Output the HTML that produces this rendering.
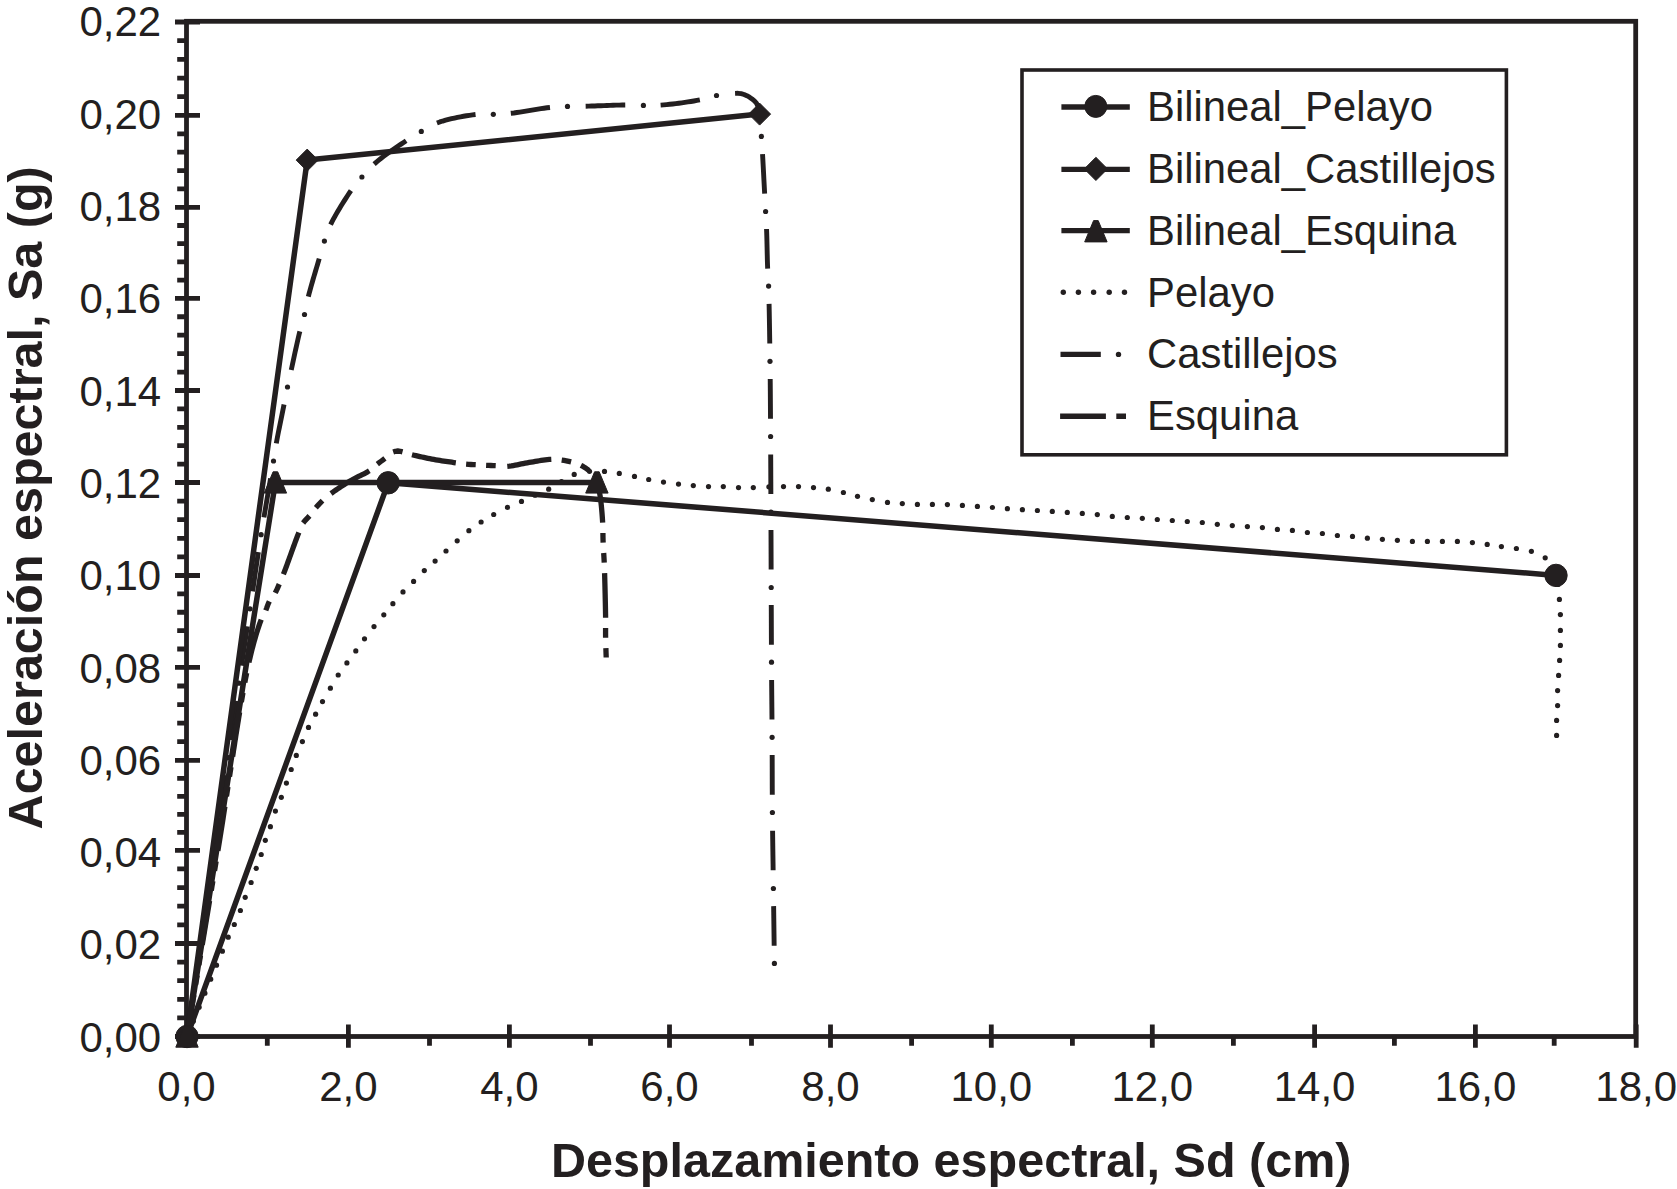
<!DOCTYPE html>
<html lang="es">
<head>
<meta charset="utf-8">
<title>Espectros de capacidad</title>
<style>
html,body{margin:0;padding:0;background:#fff;}
body{width:1677px;height:1189px;overflow:hidden;}
svg{display:block;}
</style>
</head>
<body>
<svg width="1677" height="1189" viewBox="0 0 1677 1189">
<rect width="1677" height="1189" fill="#fff"/>
<g fill="none" stroke="#231f20" stroke-width="4.8" stroke-linecap="butt">
<rect x="186.5" y="21.3" width="1449.2" height="1015.2"/>
<path d="M175 1036.5 H200 M177.2 1017.9 H186.5 M177.2 999.3 H186.5 M177.2 980.7 H186.5 M177.2 962.1 H186.5 M175 943.5 H200 M177.2 924.86 H186.5 M177.2 906.22 H186.5 M177.2 887.58 H186.5 M177.2 868.94 H186.5 M175 850.3 H200 M177.2 832.3 H186.5 M177.2 814.3 H186.5 M177.2 796.3 H186.5 M177.2 778.3 H186.5 M175 760.3 H200 M177.2 741.72 H186.5 M177.2 723.14 H186.5 M177.2 704.56 H186.5 M177.2 685.98 H186.5 M175 667.4 H200 M177.2 649.02 H186.5 M177.2 630.64 H186.5 M177.2 612.26 H186.5 M177.2 593.88 H186.5 M175 575.5 H200 M177.2 556.9 H186.5 M177.2 538.3 H186.5 M177.2 519.7 H186.5 M177.2 501.1 H186.5 M175 482.5 H200 M177.2 464.1 H186.5 M177.2 445.7 H186.5 M177.2 427.3 H186.5 M177.2 408.9 H186.5 M175 390.5 H200 M177.2 372.06 H186.5 M177.2 353.62 H186.5 M177.2 335.18 H186.5 M177.2 316.74 H186.5 M175 298.3 H200 M177.2 280.1 H186.5 M177.2 261.9 H186.5 M177.2 243.7 H186.5 M177.2 225.5 H186.5 M175 207.3 H200 M177.2 188.92 H186.5 M177.2 170.54 H186.5 M177.2 152.16 H186.5 M177.2 133.78 H186.5 M175 115.4 H200 M177.2 96.72 H186.5 M177.2 78.04 H186.5 M177.2 59.36 H186.5 M177.2 40.68 H186.5 M175 22 H200"/>
<path d="M186.5 1024.5 V1047.8 M267.3 1036.5 V1045.8 M348.4 1024.5 V1047.8 M429.5 1036.5 V1045.8 M509.4 1024.5 V1047.8 M590.5 1036.5 V1045.8 M669.5 1024.5 V1047.8 M751.5 1036.5 V1045.8 M830.5 1024.5 V1047.8 M911.6 1036.5 V1045.8 M991.3 1024.5 V1047.8 M1072.4 1036.5 V1045.8 M1152.3 1024.5 V1047.8 M1233.4 1036.5 V1045.8 M1314.6 1024.5 V1047.8 M1394.4 1036.5 V1045.8 M1475.4 1024.5 V1047.8 M1554.2 1036.5 V1045.8 M1636.2 1024.5 V1047.8"/>
</g>
<g font-family="'Liberation Sans', Arial, Helvetica, sans-serif" font-size="42" fill="#231f20">
<g text-anchor="end">
<text x="161.2" y="1051.7">0,00</text>
<text x="161.2" y="959.4">0,02</text>
<text x="161.2" y="867.1">0,04</text>
<text x="161.2" y="774.8">0,06</text>
<text x="161.2" y="682.5">0,08</text>
<text x="161.2" y="590.2">0,10</text>
<text x="161.2" y="497.9">0,12</text>
<text x="161.2" y="405.6">0,14</text>
<text x="161.2" y="313.3">0,16</text>
<text x="161.2" y="221">0,18</text>
<text x="161.2" y="128.7">0,20</text>
<text x="161.2" y="36.4">0,22</text>
</g>
<g text-anchor="middle">
<text x="186.5" y="1100.6">0,0</text>
<text x="348.4" y="1100.6">2,0</text>
<text x="509.4" y="1100.6">4,0</text>
<text x="669.5" y="1100.6">6,0</text>
<text x="830.5" y="1100.6">8,0</text>
<text x="991.3" y="1100.6">10,0</text>
<text x="1152.3" y="1100.6">12,0</text>
<text x="1314.6" y="1100.6">14,0</text>
<text x="1475.4" y="1100.6">16,0</text>
<text x="1636.2" y="1100.6">18,0</text>
</g>
</g>
<g font-family="'Liberation Sans', Arial, Helvetica, sans-serif" font-weight="bold" fill="#231f20">
<text x="550.9" y="1176.9" font-size="48.5">Desplazamiento espectral, Sd (cm)</text>
<text transform="translate(41.8 829.4) rotate(-90)" font-size="48.5">Aceleración espectral, Sa (g)</text>
</g>
<g fill="#231f20">
<circle cx="193.3" cy="1021.2" r="2.6"/><circle cx="199.1" cy="1007.2" r="2.6"/><circle cx="204.9" cy="993.2" r="2.6"/><circle cx="210.7" cy="979.2" r="2.6"/><circle cx="216.5" cy="965.2" r="2.6"/><circle cx="222.4" cy="951.2" r="2.6"/><circle cx="228.2" cy="937.2" r="2.6"/><circle cx="234.3" cy="924.5" r="2.6"/><circle cx="240.4" cy="910.5" r="2.6"/><circle cx="245.2" cy="897.3" r="2.6"/><circle cx="251.1" cy="882.5" r="2.6"/><circle cx="256.2" cy="868.3" r="2.6"/><circle cx="261.2" cy="854.5" r="2.6"/><circle cx="265.3" cy="840.3" r="2.6"/><circle cx="270.4" cy="826.7" r="2.6"/><circle cx="275.4" cy="811.1" r="2.6"/><circle cx="281.3" cy="797.3" r="2.6"/><circle cx="286.4" cy="783.1" r="2.6"/><circle cx="291.2" cy="769.5" r="2.6"/><circle cx="296.3" cy="755.4" r="2.6"/><circle cx="302.4" cy="741.6" r="2.6"/><circle cx="308.5" cy="727.4" r="2.6"/><circle cx="315.6" cy="714.2" r="2.6"/><circle cx="322.5" cy="701.6" r="2.6"/><circle cx="330.4" cy="688.2" r="2.6"/><circle cx="338.2" cy="675" r="2.6"/><circle cx="346.9" cy="662.9" r="2.6"/><circle cx="355.8" cy="650.9" r="2.6"/><circle cx="364.5" cy="638.8" r="2.6"/><circle cx="374" cy="626.6" r="2.6"/><circle cx="383.8" cy="614.8" r="2.6"/><circle cx="392.9" cy="603.7" r="2.6"/><circle cx="403" cy="591.9" r="2.6"/><circle cx="413.6" cy="581.4" r="2.6"/><circle cx="424.3" cy="570.6" r="2.6"/><circle cx="435.1" cy="561.1" r="2.6"/><circle cx="446" cy="551" r="2.6"/><circle cx="457.2" cy="540.8" r="2.6"/><circle cx="468.9" cy="530.7" r="2.6"/><circle cx="481.1" cy="522" r="2.6"/><circle cx="493.7" cy="514.5" r="2.6"/><circle cx="507.5" cy="507.4" r="2.6"/><circle cx="521.5" cy="501.4" r="2.6"/><circle cx="535" cy="495.2" r="2.6"/><circle cx="548.7" cy="489.2" r="2.6"/><circle cx="561.5" cy="481.5" r="2.6"/><circle cx="574.2" cy="474.4" r="2.6"/><circle cx="589.5" cy="471.3" r="2.6"/><circle cx="604.5" cy="471.4" r="2.6"/><circle cx="619.3" cy="473.4" r="2.6"/><circle cx="634.5" cy="476.4" r="2.6"/><circle cx="648.7" cy="479.5" r="2.6"/><circle cx="663.5" cy="482.1" r="2.6"/><circle cx="678.5" cy="484.1" r="2.6"/><circle cx="693.3" cy="485.6" r="2.6"/><circle cx="708.5" cy="486.6" r="2.6"/><circle cx="723.3" cy="486.6" r="2.6"/><circle cx="738.5" cy="487.6" r="2.6"/><circle cx="753.3" cy="487.6" r="2.6"/><circle cx="768.9" cy="486.8" r="2.6"/><circle cx="783.5" cy="486.6" r="2.6"/><circle cx="798.5" cy="486.6" r="2.6"/><circle cx="813.5" cy="487.6" r="2.6"/><circle cx="828.3" cy="489.2" r="2.6"/><circle cx="843.4" cy="492.5" r="2.6"/><circle cx="857.5" cy="496.3" r="2.6"/><circle cx="872.3" cy="499.6" r="2.6"/><circle cx="887.5" cy="502.4" r="2.6"/><circle cx="902.3" cy="503.6" r="2.6"/><circle cx="917.4" cy="504.4" r="2.6"/><circle cx="932.4" cy="504.4" r="2.6"/><circle cx="947.4" cy="504.6" r="2.6"/><circle cx="962.4" cy="505.4" r="2.6"/><circle cx="977.4" cy="506.4" r="2.6"/><circle cx="992.4" cy="507.5" r="2.6"/><circle cx="1007.4" cy="508.7" r="2.6"/><circle cx="1022.4" cy="509.7" r="2.6"/><circle cx="1037.4" cy="510.5" r="2.6"/><circle cx="1052.3" cy="511.4" r="2.6"/><circle cx="1067.3" cy="512.4" r="2.6"/><circle cx="1082.3" cy="513.4" r="2.6"/><circle cx="1097.3" cy="514.6" r="2.6"/><circle cx="1112.3" cy="516.4" r="2.6"/><circle cx="1127.3" cy="517.5" r="2.6"/><circle cx="1142.3" cy="518.3" r="2.6"/><circle cx="1157.3" cy="519.5" r="2.6"/><circle cx="1172.3" cy="520.5" r="2.6"/><circle cx="1187.3" cy="521.5" r="2.6"/><circle cx="1202.3" cy="522.5" r="2.6"/><circle cx="1217.3" cy="524.3" r="2.6"/><circle cx="1232.3" cy="525.6" r="2.6"/><circle cx="1247.4" cy="526.6" r="2.6"/><circle cx="1262.4" cy="527.6" r="2.6"/><circle cx="1277.4" cy="529.4" r="2.6"/><circle cx="1292.4" cy="530.4" r="2.6"/><circle cx="1307.4" cy="532.5" r="2.6"/><circle cx="1322.4" cy="533.5" r="2.6"/><circle cx="1337.4" cy="535.5" r="2.6"/><circle cx="1352.5" cy="536.4" r="2.6"/><circle cx="1367.4" cy="538.2" r="2.6"/><circle cx="1382.4" cy="539.3" r="2.6"/><circle cx="1397.4" cy="540.3" r="2.6"/><circle cx="1412.4" cy="541.4" r="2.6"/><circle cx="1427.4" cy="541.4" r="2.6"/><circle cx="1442.4" cy="541.4" r="2.6"/><circle cx="1457.4" cy="541.4" r="2.6"/><circle cx="1472.4" cy="542.6" r="2.6"/><circle cx="1487.2" cy="544.4" r="2.6"/><circle cx="1501.4" cy="546.6" r="2.6"/><circle cx="1516.4" cy="548.5" r="2.6"/><circle cx="1531.4" cy="551.3" r="2.6"/><circle cx="1545.2" cy="557.8" r="2.6"/><circle cx="1554" cy="570" r="2.6"/><circle cx="1558" cy="584.5" r="2.6"/><circle cx="1559.4" cy="599.4" r="2.6"/><circle cx="1560.4" cy="614.6" r="2.6"/><circle cx="1560.4" cy="630.4" r="2.6"/><circle cx="1560.4" cy="645.4" r="2.6"/><circle cx="1559.6" cy="660.4" r="2.6"/><circle cx="1558.6" cy="675.4" r="2.6"/><circle cx="1557.6" cy="690.6" r="2.6"/><circle cx="1557.6" cy="705.6" r="2.6"/><circle cx="1556.6" cy="720.4" r="2.6"/><circle cx="1556.6" cy="735.4" r="2.6"/>
</g>
<g fill="none" stroke="#231f20" stroke-width="4.9" stroke-linecap="butt" stroke-linejoin="round">
<path d="M187 1036.5 L187.48 1033.33 L187.96 1030.15 L188.44 1026.98 L188.92 1023.8 L189.39 1020.63 L189.87 1017.46 L190.35 1014.28 L190.83 1011.11 L191.31 1007.94 L191.79 1004.76 L192.27 1001.59 L192.74 998.41"/>
<path d="M198.04 963.21 L198.49 960.2 L198.95 957.18 L199.4 954.17 L199.85 951.16 L200.3 948.15 L200.75 945.14 L201.21 942.12 L201.66 939.11 L202.11 936.1 L202.56 933.09 L203.01 930.07 L203.46 927.06 L203.91 924.05"/>
<path d="M209.16 888.84 L209.6 885.82 L210.05 882.81 L210.5 879.8 L210.94 876.78 L211.39 873.77 L211.84 870.76 L212.28 867.74 L212.73 864.73 L213.17 861.72 L213.62 858.7 L214.06 855.69 L214.51 852.68 L214.95 849.66"/>
<path d="M220.14 814.44 L220.58 811.43 L221.02 808.41 L221.46 805.4 L221.91 802.39 L222.35 799.37 L222.79 796.36 L223.23 793.34 L223.67 790.33 L224.11 787.32 L224.55 784.3 L224.98 781.29 L225.42 778.27 L225.86 775.26"/>
<path d="M230.92 740.02 L231.34 737 L231.76 733.98 L232.18 730.97 L232.61 727.95 L233.03 724.93 L233.45 721.92 L233.86 718.9 L234.28 715.88 L234.7 712.87 L235.12 709.85 L235.54 706.83 L235.97 703.81 L236.39 700.8"/>
<path d="M241.48 665.56 L241.93 662.55 L242.38 659.54 L242.83 656.53 L243.28 653.51 L243.73 650.5 L244.18 647.49 L244.64 644.48 L245.09 641.46 L245.54 638.45 L246 635.44 L246.45 632.43 L246.9 629.41 L247.36 626.4"/>
<path d="M252.59 591.33 L253.03 588.31 L253.47 585.3 L253.91 582.29 L254.36 579.27 L254.8 576.26 L255.24 573.24 L255.69 570.23 L256.13 567.22 L256.58 564.2 L257.03 561.19 L257.48 558.18 L257.93 555.17 L258.39 552.15"/>
<path d="M263.93 517.36 L264.44 514.36 L264.94 511.35 L265.45 508.35 L265.96 505.35 L266.47 502.34 L266.98 499.34 L267.49 496.34 L268.01 493.34 L268.52 490.33 L269.03 487.33 L269.55 484.33 L270.06 481.33 L270.58 478.32"/>
<path d="M276.29 443.36 L276.84 440.36 L277.4 437.37 L277.98 434.38 L278.57 431.39 L279.17 428.4 L279.78 425.42 L280.39 422.43 L281 419.45 L281.61 416.46 L282.22 413.48 L282.83 410.5 L283.44 407.51 L284.03 404.52"/>
<path d="M291.24 369.96 L291.9 366.99 L292.54 364.01 L293.19 361.03 L293.83 358.06 L294.47 355.08 L295.11 352.1 L295.76 349.12 L296.41 346.15 L297.07 343.17 L297.74 340.2 L298.42 337.23 L299.12 334.27 L299.85 331.31"/>
<path d="M308.34 296.66 L309.08 293.71 L309.86 290.77 L310.67 287.83 L311.5 284.9 L312.34 281.97 L313.18 279.04 L314.04 276.12 L314.9 273.2 L315.77 270.28 L316.64 267.36 L317.51 264.44 L318.37 261.52 L319.22 258.59"/>
<path d="M330.59 224.66 L331.93 221.93 L333.35 219.23 L334.8 216.55 L336.3 213.9 L337.83 211.27 L339.38 208.65 L340.96 206.04 L342.56 203.45 L344.18 200.87 L345.83 198.31 L347.5 195.76 L349.2 193.23 L350.93 190.73"/>
<path d="M374.13 164.04 L376.42 162.04 L378.78 160.11 L381.18 158.23 L383.61 156.39 L386.06 154.59 L388.53 152.81 L391.02 151.04 L393.52 149.3 L396.02 147.57 L398.54 145.85 L401.06 144.15 L403.59 142.45 L406.12 140.75"/>
<path d="M436.94 122.99 L439.8 121.95 L442.7 121.02 L445.63 120.18 L448.58 119.41 L451.54 118.69 L454.51 118.03 L457.49 117.4 L460.48 116.82 L463.48 116.27 L466.48 115.76 L469.49 115.3 L472.51 114.88 L475.53 114.54"/>
<path d="M510.82 113.27 L513.85 112.95 L516.87 112.55 L519.88 112.11 L522.89 111.64 L525.9 111.15 L528.9 110.64 L531.91 110.13 L534.91 109.63 L537.92 109.13 L540.92 108.65 L543.94 108.21 L546.96 107.8 L549.98 107.47"/>
<path d="M585.66 106.21 L588.71 106.14 L591.75 106.04 L594.8 105.94 L597.84 105.82 L600.88 105.7 L603.93 105.58 L606.97 105.47 L610.02 105.35 L613.06 105.25 L616.1 105.15 L619.15 105.08 L622.2 105.02 L625.24 105"/>
<path d="M660.62 105.11 L663.65 104.88 L666.69 104.6 L669.72 104.29 L672.75 103.96 L675.77 103.59 L678.79 103.21 L681.81 102.81 L684.83 102.39 L687.84 101.94 L690.85 101.48 L693.86 100.98 L696.86 100.45 L699.85 99.86"/>
<path d="M735.07 93.41 L738.12 93.32 L741.14 93.63 L744.06 94.5 L746.85 95.72 L749.52 97.19 L752.02 98.92 L754.37 100.86 L756.43 103.1 L757.81 105.8 L758.64 108.73 L759.22 111.72 L759.72 114.72 L760.1 117.74"/>
<path d="M762.53 154.17 L762.71 157.21 L762.88 160.26 L763.05 163.3 L763.21 166.34 L763.37 169.38 L763.53 172.42 L763.69 175.46 L763.85 178.51 L764.01 181.55 L764.17 184.59 L764.33 187.63 L764.49 190.67 L764.65 193.72"/>
<path d="M766.55 229.01 L766.67 232.05 L766.77 235.1 L766.85 238.14 L766.93 241.19 L767 244.23 L767.07 247.28 L767.14 250.32 L767.2 253.37 L767.28 256.41 L767.35 259.46 L767.44 262.5 L767.54 265.55 L767.66 268.59"/>
<path d="M769.08 303.9 L769.15 306.94 L769.21 309.99 L769.27 313.03 L769.32 316.08 L769.38 319.13 L769.43 322.17 L769.48 325.22 L769.53 328.26 L769.58 331.31 L769.62 334.35 L769.67 337.4 L769.72 340.45 L769.76 343.49"/>
<path d="M770.21 379.1 L770.24 382.14 L770.27 385.19 L770.29 388.24 L770.32 391.28 L770.34 394.33 L770.36 397.37 L770.38 400.42 L770.4 403.47 L770.42 406.51 L770.44 409.56 L770.46 412.6 L770.48 415.65 L770.5 418.7"/>
<path d="M770.7 454.45 L770.71 457.5 L770.73 460.54 L770.74 463.59 L770.75 466.63 L770.77 469.68 L770.78 472.73 L770.79 475.77 L770.8 478.82 L770.82 481.87 L770.83 484.91 L770.84 487.96 L770.85 491 L770.86 494.05"/>
<path d="M770.99 529.95 L771 533 L771.02 536.04 L771.03 539.09 L771.04 542.13 L771.05 545.18 L771.06 548.23 L771.07 551.27 L771.08 554.32 L771.09 557.37 L771.1 560.41 L771.11 563.46 L771.12 566.5 L771.13 569.55"/>
<path d="M771.26 605.05 L771.28 608.1 L771.29 611.14 L771.3 614.19 L771.31 617.23 L771.32 620.28 L771.33 623.33 L771.34 626.37 L771.35 629.42 L771.36 632.47 L771.37 635.51 L771.38 638.56 L771.4 641.6 L771.41 644.65"/>
<path d="M771.63 679.95 L771.65 683 L771.68 686.04 L771.71 689.09 L771.73 692.13 L771.76 695.18 L771.79 698.23 L771.81 701.27 L771.84 704.32 L771.87 707.37 L771.9 710.41 L771.92 713.46 L771.95 716.5 L771.97 719.55"/>
<path d="M772.18 755.1 L772.19 758.15 L772.19 761.19 L772.2 764.24 L772.21 767.28 L772.22 770.33 L772.22 773.38 L772.23 776.42 L772.24 779.47 L772.24 782.52 L772.25 785.56 L772.26 788.61 L772.28 791.65 L772.29 794.7"/>
<path d="M772.59 830.7 L772.63 833.75 L772.67 836.79 L772.71 839.84 L772.75 842.89 L772.79 845.93 L772.83 848.98 L772.88 852.02 L772.92 855.07 L772.97 858.12 L773.01 861.16 L773.06 864.21 L773.1 867.25 L773.14 870.3"/>
<path d="M773.63 906.15 L773.68 909.2 L773.72 912.24 L773.76 915.29 L773.8 918.34 L773.84 921.38 L773.88 924.43 L773.92 927.47 L773.96 930.52 L774 933.56 L774.04 936.61 L774.08 939.66 L774.12 942.7 L774.16 945.75"/>
</g>
<g fill="#231f20">
<circle cx="195.39" cy="980.81" r="2.6"/>
<circle cx="206.54" cy="906.44" r="2.6"/>
<circle cx="217.55" cy="832.05" r="2.6"/>
<circle cx="228.41" cy="757.64" r="2.6"/>
<circle cx="238.9" cy="683.18" r="2.6"/>
<circle cx="250" cy="608.8" r="2.6"/>
<circle cx="261.1" cy="534.7" r="2.6"/>
<circle cx="273.5" cy="461" r="2.6"/>
<circle cx="287.5" cy="387" r="2.6"/>
<circle cx="304.5" cy="314.5" r="2.6"/>
<circle cx="324.4" cy="241.1" r="2.6"/>
<circle cx="361.9" cy="177" r="2.6"/>
<circle cx="421.3" cy="131.4" r="2.6"/>
<circle cx="493.3" cy="114.3" r="2.6"/>
<circle cx="567.5" cy="106.4" r="2.6"/>
<circle cx="643.4" cy="105.4" r="2.6"/>
<circle cx="716.5" cy="95.5" r="2.6"/>
<circle cx="761.4" cy="136.4" r="2.6"/>
<circle cx="765.6" cy="211.5" r="2.6"/>
<circle cx="768.6" cy="286.1" r="2.6"/>
<circle cx="770" cy="361.29" r="2.6"/>
<circle cx="770.6" cy="436.5" r="2.6"/>
<circle cx="770.93" cy="512" r="2.6"/>
<circle cx="771.2" cy="587.5" r="2.6"/>
<circle cx="771.5" cy="662.2" r="2.6"/>
<circle cx="772.1" cy="737.3" r="2.6"/>
<circle cx="772.4" cy="812.5" r="2.6"/>
<circle cx="773.4" cy="888.5" r="2.6"/>
<circle cx="774.4" cy="963.4" r="2.6"/>
</g>
<g fill="none" stroke="#231f20" stroke-width="5.3" stroke-linecap="butt" stroke-linejoin="round">
<path d="M187 1036.5 L187.33 1034.52 L187.66 1032.54 L187.99 1030.57 L188.32 1028.59 L188.65 1026.61 L188.98 1024.63 L189.31 1022.65 L189.64 1020.68 L189.96 1018.7 L190.29 1016.72 L190.62 1014.74 L190.95 1012.76 L191.28 1010.79 L191.61 1008.81 L191.94 1006.83 L192.27 1004.85 L192.6 1002.87 L192.93 1000.9 L193.26 998.92 L193.59 996.94 L193.92 994.96"/>
<path d="M195.62 984.7 L196.02 982.34 L196.41 979.97 L196.8 977.6 L197.2 975.23"/>
<path d="M198.91 964.97 L199.3 962.61 L199.69 960.24 L200.09 957.87 L200.48 955.5"/>
<path d="M202.25 944.85 L202.59 942.85 L202.92 940.85 L203.25 938.85 L203.58 936.85 L203.92 934.85 L204.25 932.85 L204.58 930.85 L204.91 928.85 L205.25 926.85 L205.58 924.85 L205.91 922.85 L206.24 920.85 L206.57 918.85 L206.91 916.85 L207.24 914.85 L207.57 912.85 L207.9 910.85 L208.24 908.85 L208.57 906.85 L208.9 904.85 L209.23 902.85 L209.57 900.85"/>
<path d="M211.27 890.6 L211.66 888.23 L212.05 885.86 L212.45 883.49 L212.84 881.12"/>
<path d="M214.54 870.86 L214.94 868.5 L215.33 866.13 L215.72 863.76 L216.11 861.39"/>
<path d="M217.88 850.74 L218.21 848.74 L218.54 846.74 L218.86 844.74 L219.19 842.74 L219.51 840.74 L219.84 838.73 L220.16 836.73 L220.48 834.73 L220.8 832.73 L221.12 830.73 L221.44 828.73 L221.76 826.72 L222.07 824.72 L222.39 822.72 L222.7 820.72 L223.02 818.71 L223.33 816.71 L223.64 814.71 L223.95 812.7 L224.26 810.7 L224.58 808.7 L224.89 806.69"/>
<path d="M226.47 796.42 L226.84 794.04 L227.2 791.67 L227.56 789.3 L227.93 786.93"/>
<path d="M229.5 776.65 L229.87 774.27 L230.23 771.9 L230.6 769.53 L230.96 767.16"/>
<path d="M232.61 756.48 L232.92 754.48 L233.23 752.48 L233.54 750.47 L233.85 748.47 L234.16 746.47 L234.48 744.46 L234.79 742.46 L235.1 740.46 L235.42 738.46 L235.73 736.45 L236.05 734.45 L236.37 732.45 L236.69 730.45 L237.01 728.45 L237.33 726.44 L237.65 724.44 L237.97 722.44 L238.3 720.44 L238.62 718.44 L238.95 716.44 L239.28 714.44 L239.61 712.44"/>
<path d="M241.34 702.18 L241.74 699.82 L242.15 697.45 L242.57 695.09 L242.98 692.72"/>
<path d="M244.85 682.49 L245.29 680.13 L245.74 677.78 L246.2 675.42 L246.67 673.07"/>
<path d="M248.9 662.5 L249.35 660.52 L249.81 658.55 L250.27 656.57 L250.74 654.6 L251.23 652.63 L251.72 650.67 L252.22 648.7 L252.73 646.74 L253.24 644.78 L253.78 642.82 L254.32 640.87 L254.87 638.92 L255.43 636.97 L256.01 635.03 L256.59 633.09 L257.2 631.15 L257.82 629.22 L258.45 627.3 L259.1 625.38 L259.78 623.46 L260.47 621.56 L261.19 619.67"/>
<path d="M265.79 610.35 L266.65 608.11 L267.45 605.84 L268.3 603.6 L269.34 601.44"/>
<path d="M275.24 592.89 L276.33 590.75 L277.33 588.57 L278.29 586.37 L279.24 584.16"/>
<path d="M283.4 574.3 L284.13 572.41 L284.85 570.51 L285.56 568.61 L286.26 566.71 L286.96 564.81 L287.65 562.9 L288.34 561 L289.03 559.09 L289.72 557.19 L290.41 555.28 L291.1 553.37 L291.79 551.47 L292.48 549.56 L293.17 547.65 L293.86 545.75 L294.56 543.84 L295.25 541.94 L295.96 540.04 L296.66 538.14 L297.38 536.24 L298.11 534.35 L298.85 532.46"/>
<path d="M303.1 523 L304.58 521.12 L306.21 519.36 L307.88 517.63 L309.5 515.86"/>
<path d="M315.87 507.65 L317.47 505.85 L319.11 504.1 L320.79 502.39 L322.5 500.71"/>
<path d="M331 493.5 L332.64 492.31 L334.3 491.14 L335.96 489.98 L337.64 488.85 L339.33 487.72 L341.02 486.61 L342.72 485.51 L344.43 484.42 L346.15 483.34 L347.88 482.28 L349.61 481.23 L351.37 480.21 L353.14 479.24 L354.94 478.3 L356.75 477.38 L358.56 476.48 L360.38 475.58 L362.2 474.68 L364.01 473.77 L365.8 472.83 L367.58 471.85 L369.31 470.79"/>
<path d="M377.33 464.19 L379.22 462.71 L381.12 461.24 L383.02 459.78 L384.92 458.31"/>
<path d="M393.2 452.06 L395.47 451.3 L397.84 451 L400.22 451.27 L402.54 451.88"/>
<path d="M412 454.7 L413.97 455.2 L415.94 455.67 L417.91 456.14 L419.89 456.59 L421.86 457.03 L423.84 457.46 L425.83 457.88 L427.81 458.3 L429.8 458.7 L431.79 459.08 L433.78 459.46 L435.78 459.82 L437.78 460.16 L439.78 460.48 L441.78 460.79 L443.79 461.09 L445.79 461.39 L447.8 461.67 L449.81 461.95 L451.81 462.23 L453.82 462.51 L455.83 462.79"/>
<path d="M466.13 464.19 L468.53 464.37 L470.92 464.48 L473.32 464.57 L475.72 464.67"/>
<path d="M486.1 465.29 L488.5 465.39 L490.9 465.48 L493.3 465.56 L495.7 465.66"/>
<path d="M507.3 466.3 L509.32 466.12 L511.33 465.86 L513.33 465.53 L515.32 465.17 L517.31 464.78 L519.3 464.37 L521.29 463.96 L523.27 463.56 L525.26 463.17 L527.25 462.8 L529.25 462.46 L531.25 462.13 L533.25 461.79 L535.25 461.44 L537.25 461.1 L539.25 460.76 L541.25 460.44 L543.25 460.14 L545.26 459.86 L547.28 459.63 L549.29 459.46 L551.32 459.36"/>
<path d="M561.69 460.02 L564.06 460.37 L566.42 460.81 L568.76 461.34 L571.09 461.93"/>
<path d="M580.92 465.29 L583.05 466.39 L585.1 467.64 L587.05 469.04 L588.88 470.58"/>
<path d="M595.14 478.96 L596.04 480.78 L596.85 482.64 L597.56 484.54 L598.16 486.47 L598.67 488.44 L599.1 490.41 L599.49 492.4 L599.85 494.4 L600.18 496.4 L600.48 498.41 L600.74 500.42 L600.98 502.43 L601.2 504.44 L601.41 506.46 L601.6 508.48 L601.78 510.5 L601.95 512.52 L602.11 514.54 L602.26 516.56 L602.4 518.58 L602.53 520.61 L602.65 522.63"/>
<path d="M602.93 533.03 L602.95 535.43 L602.99 537.82 L603.04 540.22 L603.13 542.62"/>
<path d="M603.69 553.01 L603.84 555.4 L603.98 557.8 L604.11 560.2 L604.23 562.59"/>
<path d="M604.6 573.1 L604.66 575.13 L604.71 577.15 L604.77 579.18 L604.82 581.21 L604.88 583.23 L604.93 585.26 L604.98 587.29 L605.03 589.31 L605.08 591.34 L605.13 593.37 L605.18 595.39 L605.22 597.42 L605.27 599.45 L605.31 601.47 L605.36 603.5 L605.4 605.53 L605.44 607.55 L605.48 609.58 L605.51 611.61 L605.55 613.63 L605.58 615.66 L605.6 617.69"/>
<path d="M605.59 628.09 L605.58 630.49 L605.57 632.89 L605.58 635.29 L605.61 637.69"/>
<path d="M605.88 648.08 L605.95 650.44 L606.03 652.79 L606.12 655.15 L606.2 657.5"/>
</g>
<g fill="none" stroke="#231f20" stroke-width="5.5" stroke-linejoin="round">
<path d="M187 1036.5 L388.2 482.8 L1556 575.4"/>
<path d="M187 1036.5 L307.2 160.1 L759.6 114.1"/>
<path d="M187 1036.5 L275.4 482.4 L596.9 482.4"/>
</g>
<g fill="#231f20" stroke="#231f20" stroke-width="1" stroke-linejoin="round">
<circle cx="187" cy="1036.5" r="11.2"/>
<circle cx="388.2" cy="482.8" r="11.2"/>
<circle cx="1556" cy="575.4" r="11.2"/>
<path d="M187 1025.5 L198 1036.5 L187 1047.5 L176 1036.5Z"/>
<path d="M307.2 149.1 L318.2 160.1 L307.2 171.1 L296.2 160.1Z"/>
<path d="M759.6 103.1 L770.6 114.1 L759.6 125.1 L748.6 114.1Z"/>
<path d="M184.7 1025.9 L189.3 1025.9 L198.2 1047.2 L175.8 1047.2Z"/>
<path d="M273.1 471.8 L277.7 471.8 L286.6 493.1 L264.2 493.1Z"/>
<path d="M594.6 471.8 L599.2 471.8 L608.1 493.1 L585.7 493.1Z"/>
</g>
<rect x="1022" y="70" width="484.4" height="384.8" fill="#fff" stroke="#231f20" stroke-width="3.6"/>
<g fill="none" stroke="#231f20" stroke-width="5.4">
<path d="M1061.4 107 H1129.8"/>
<path d="M1061.4 169.4 H1129.8"/>
<path d="M1061.4 230.6 H1129.8"/>
<path d="M1060.5 354.4 H1100.8"/>
<path d="M1060.1 416.2 H1105.9 M1116.3 416.2 H1126"/>
</g>
<g fill="#231f20" stroke="#231f20" stroke-width="1" stroke-linejoin="round">
<circle cx="1095.8" cy="106.4" r="11"/>
<path d="M1095.9 157.3 L1107.5 168.9 L1095.9 180.5 L1084.3 168.9Z"/>
<path d="M1093.6 220.6 L1098.2 220.6 L1107.1 241.9 L1084.7 241.9Z"/>
</g>
<g fill="#231f20">
<circle cx="1063.3" cy="292.3" r="2.7"/>
<circle cx="1078.4" cy="292.3" r="2.7"/>
<circle cx="1093.6" cy="292.3" r="2.7"/>
<circle cx="1109.2" cy="292.3" r="2.7"/>
<circle cx="1124.5" cy="292.3" r="2.7"/>
<circle cx="1118.5" cy="354.4" r="2.7"/>
</g>
<g font-family="'Liberation Sans', Arial, Helvetica, sans-serif" font-size="41.8" fill="#231f20">
<text x="1147.1" y="120.9">Bilineal_Pelayo</text>
<text x="1147.1" y="182.8">Bilineal_Castillejos</text>
<text x="1147.1" y="244.5">Bilineal_Esquina</text>
<text x="1147.1" y="306.7">Pelayo</text>
<text x="1147.1" y="367.7">Castillejos</text>
<text x="1147.1" y="429.9">Esquina</text>
</g>
</svg>
</body>
</html>
